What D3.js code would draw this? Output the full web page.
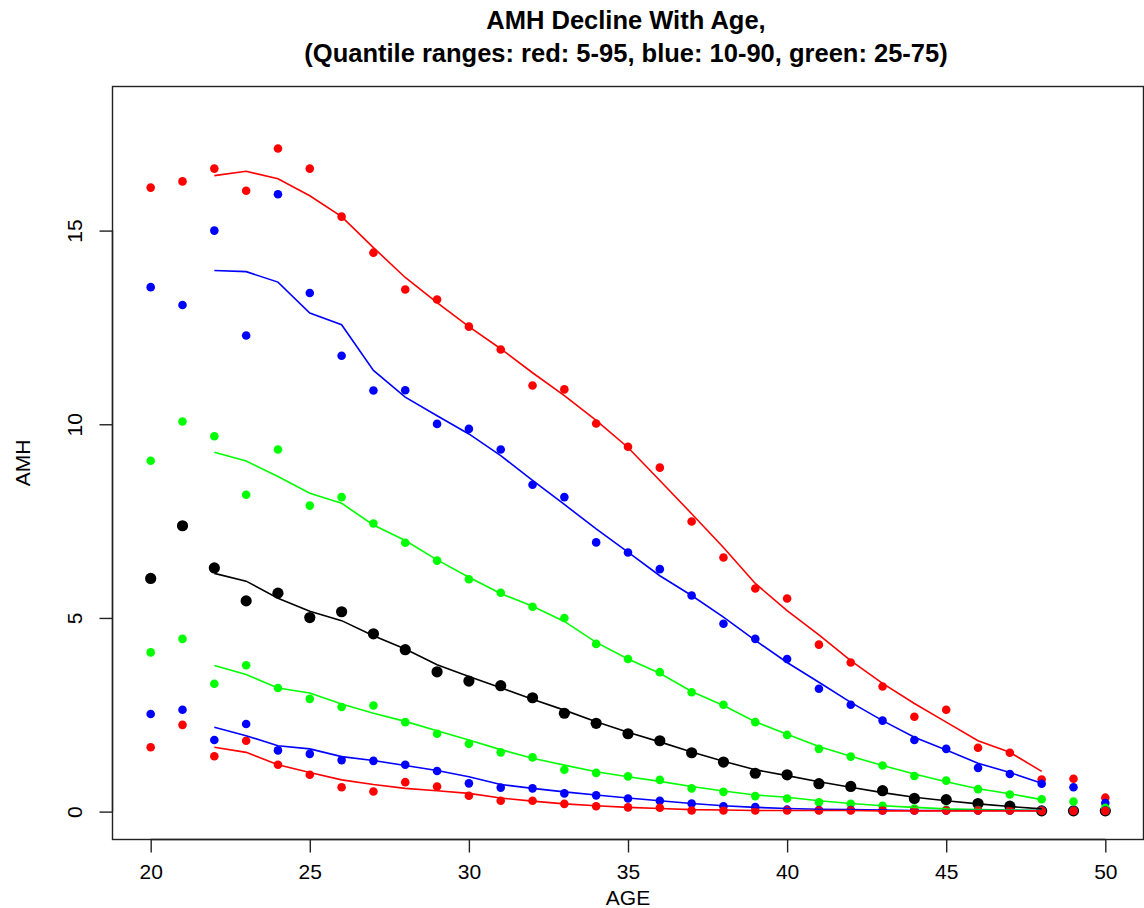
<!DOCTYPE html>
<html>
<head>
<meta charset="utf-8">
<script src="https://cdn.jsdelivr.net/npm/d3@7"></script>
<style>
  html, body { margin: 0; padding: 0; background: #fff; }
  svg { display: block; }
  text { font-family: "Liberation Sans", Arial, Helvetica, sans-serif; }
</style>
</head>
<body>
<svg id="chart" width="1144" height="908"></svg>
<script>
// ---------- data ----------
const ages = d3.range(20, 51);        // point ages 20..50
const lineAges = d3.range(22, 49);    // smoothed line ages 22..48

const q95 = [16.11,16.27,16.60,16.03,17.12,16.60,15.36,14.43,13.48,13.22,12.52,11.93,11.00,10.90,10.02,9.42,8.88,7.49,6.56,5.76,5.50,4.31,3.85,3.23,2.45,2.63,1.65,1.52,0.83,0.85,0.36];
const q90 = [13.54,13.08,15.00,12.29,15.94,13.39,11.77,10.87,10.88,10.01,9.88,9.35,8.44,8.12,6.95,6.69,6.26,5.58,4.85,4.46,3.94,3.17,2.76,2.35,1.85,1.62,1.13,0.97,0.72,0.63,0.22];
const q75 = [9.06,10.07,9.69,8.18,9.35,7.90,8.12,7.44,6.94,6.48,6.00,5.65,5.29,5.00,4.33,3.94,3.60,3.08,2.76,2.31,1.98,1.62,1.42,1.19,0.92,0.80,0.58,0.44,0.32,0.26,0.10];
const q50 = [6.02,7.38,6.29,5.44,5.64,5.01,5.16,4.59,4.18,3.61,3.37,3.25,2.94,2.54,2.28,2.01,1.83,1.52,1.28,0.99,0.95,0.72,0.65,0.54,0.34,0.31,0.21,0.14,0.02,0.02,0.02];
const q25 = [4.11,4.46,3.30,3.78,3.19,2.91,2.70,2.74,2.31,2.01,1.75,1.53,1.40,1.08,1.00,0.91,0.82,0.60,0.51,0.40,0.34,0.24,0.20,0.15,0.08,0.05,0.04,0.03,0.03,0.03,0.03];
const q10 = [2.52,2.63,1.85,2.26,1.58,1.49,1.33,1.31,1.21,1.05,0.73,0.62,0.60,0.47,0.42,0.34,0.28,0.21,0.14,0.12,0.05,0.04,0.04,0.03,0.03,0.03,0.03,0.03,0.03,0.03,0.03];
const q05 = [1.66,2.24,1.43,1.83,1.21,0.95,0.63,0.52,0.76,0.65,0.41,0.28,0.28,0.20,0.14,0.11,0.10,0.03,0.03,0.03,0.03,0.03,0.03,0.03,0.03,0.03,0.03,0.03,0.02,0.02,0.02];

const fit95 = [16.42,16.53,16.34,15.90,15.36,14.56,13.79,13.14,12.52,11.95,11.33,10.74,10.10,9.40,8.55,7.69,6.82,5.89,5.19,4.56,3.90,3.31,2.79,2.31,1.83,1.53,1.04];
const fit90 = [13.97,13.94,13.67,12.87,12.57,11.39,10.70,10.22,9.75,9.19,8.55,7.93,7.30,6.70,6.09,5.58,5.02,4.42,3.85,3.34,2.82,2.35,1.92,1.59,1.25,1.01,0.73];
const fit75 = [9.28,9.05,8.65,8.22,7.96,7.40,7.00,6.50,6.05,5.63,5.30,4.91,4.37,3.94,3.57,3.10,2.74,2.32,2.00,1.68,1.43,1.19,0.97,0.77,0.59,0.46,0.31];
const fit50 = [6.15,5.95,5.51,5.17,4.93,4.54,4.20,3.79,3.49,3.20,2.90,2.62,2.32,2.05,1.80,1.54,1.30,1.08,0.93,0.77,0.63,0.49,0.37,0.28,0.20,0.13,0.07];
const fit25 = [3.77,3.54,3.19,3.06,2.78,2.54,2.33,2.09,1.85,1.60,1.38,1.20,1.03,0.90,0.78,0.65,0.53,0.43,0.37,0.28,0.21,0.15,0.11,0.07,0.05,0.04,0.03];
const fit10 = [2.18,1.96,1.70,1.62,1.42,1.32,1.19,1.06,0.90,0.70,0.60,0.51,0.43,0.35,0.28,0.21,0.15,0.11,0.08,0.06,0.05,0.04,0.03,0.03,0.03,0.03,0.03];
const fit05 = [1.66,1.53,1.21,1.01,0.82,0.70,0.60,0.54,0.47,0.35,0.27,0.20,0.15,0.11,0.08,0.05,0.04,0.03,0.03,0.03,0.03,0.02,0.02,0.02,0.02,0.02,0.02];

const xTicks = [20, 25, 30, 35, 40, 45, 50];
const yTicks = [0, 5, 10, 15];
const titleLines = ["AMH Decline With Age,", "(Quantile ranges: red: 5-95, blue: 10-90, green: 25-75)"];
const xLabel = "AGE";
const yLabel = "AMH";

// ---------- layout ----------
const box = { left: 112.5, right: 1143.5, top: 86.5, bottom: 839.5 };
const x = d3.scaleLinear().domain([18.8, 51.2]).range([box.left, box.right]);
const y = d3.scaleLinear().domain([-0.72, 18.72]).range([box.bottom, box.top]);

const svg = d3.select("#chart");

// title
svg.append("g").selectAll("text").data(titleLines).join("text")
  .attr("x", 626)
  .attr("y", (d, i) => 29 + i * 33)
  .attr("text-anchor", "middle")
  .attr("font-size", 25.5)
  .attr("font-weight", "bold")
  .text(d => d);

// frame
svg.append("rect")
  .attr("x", box.left).attr("y", box.top)
  .attr("width", box.right - box.left).attr("height", box.bottom - box.top)
  .attr("fill", "none").attr("stroke", "#222").attr("stroke-width", 1.4);

// axes
const xAxis = d3.axisBottom(x).tickValues(xTicks).tickSize(13).tickFormat(d3.format("d"));
const gx = svg.append("g").attr("transform", `translate(0,${box.bottom})`).call(xAxis);
gx.select(".domain").attr("d", `M${x(20)},0H${x(50)}`).attr("stroke-width", 1.4).attr("stroke", "#222");
gx.selectAll(".tick line").attr("stroke-width", 1.4).attr("stroke", "#222");
gx.selectAll(".tick text")
  .attr("font-size", 21).attr("font-family", "Liberation Sans, Arial, sans-serif").attr("fill", "#000")
  .attr("y", 39.5).attr("dy", null);

const yAxis = d3.axisLeft(y).tickValues(yTicks).tickSize(13).tickFormat(d3.format("d"));
const gy = svg.append("g").attr("transform", `translate(${box.left},0)`).call(yAxis);
gy.select(".domain").attr("d", `M0,${y(0)}V${y(15)}`).attr("stroke-width", 1.4).attr("stroke", "#222");
gy.selectAll(".tick line").attr("stroke-width", 1.4).attr("stroke", "#222");
gy.selectAll(".tick text")
  .attr("font-size", 21).attr("font-family", "Liberation Sans, Arial, sans-serif").attr("fill", "#000")
  .attr("x", null).attr("dy", null)
  .attr("text-anchor", "middle")
  .attr("transform", "translate(-30.5,0) rotate(-90)");

// axis labels
svg.append("text").attr("x", x(35)).attr("y", 905)
  .attr("text-anchor", "middle").attr("font-size", 21).text(xLabel);
svg.append("text")
  .attr("transform", `translate(30,${y(9)}) rotate(-90)`)
  .attr("text-anchor", "middle").attr("font-size", 21).text(yLabel);

// points
const plot = svg.append("g");
function points(vals, color, r) {
  plot.append("g").selectAll("circle").data(ages).join("circle")
    .attr("cx", (d) => x(d))
    .attr("cy", (d, i) => y(vals[i]))
    .attr("r", r)
    .attr("fill", color);
}
points(q50, "#000000", 5.6);
points(q95, "#FF0000", 4.3);
points(q90, "#0000FF", 4.3);
points(q75, "#00FF00", 4.3);
points(q25, "#00FF00", 4.3);
points(q10, "#0000FF", 4.3);
points(q05, "#FF0000", 4.3);

// fitted lines
const line = d3.line().x(d => x(d[0])).y(d => y(d[1]));
function fit(vals, color) {
  plot.append("path")
    .datum(lineAges.map((a, i) => [a, vals[i]]))
    .attr("d", line)
    .attr("fill", "none")
    .attr("stroke", color)
    .attr("stroke-width", 1.6);
}
fit(fit50, "#000000");
fit(fit95, "#FF0000");
fit(fit90, "#0000FF");
fit(fit75, "#00FF00");
fit(fit25, "#00FF00");
fit(fit10, "#0000FF");
fit(fit05, "#FF0000");
</script>
</body>
</html>
